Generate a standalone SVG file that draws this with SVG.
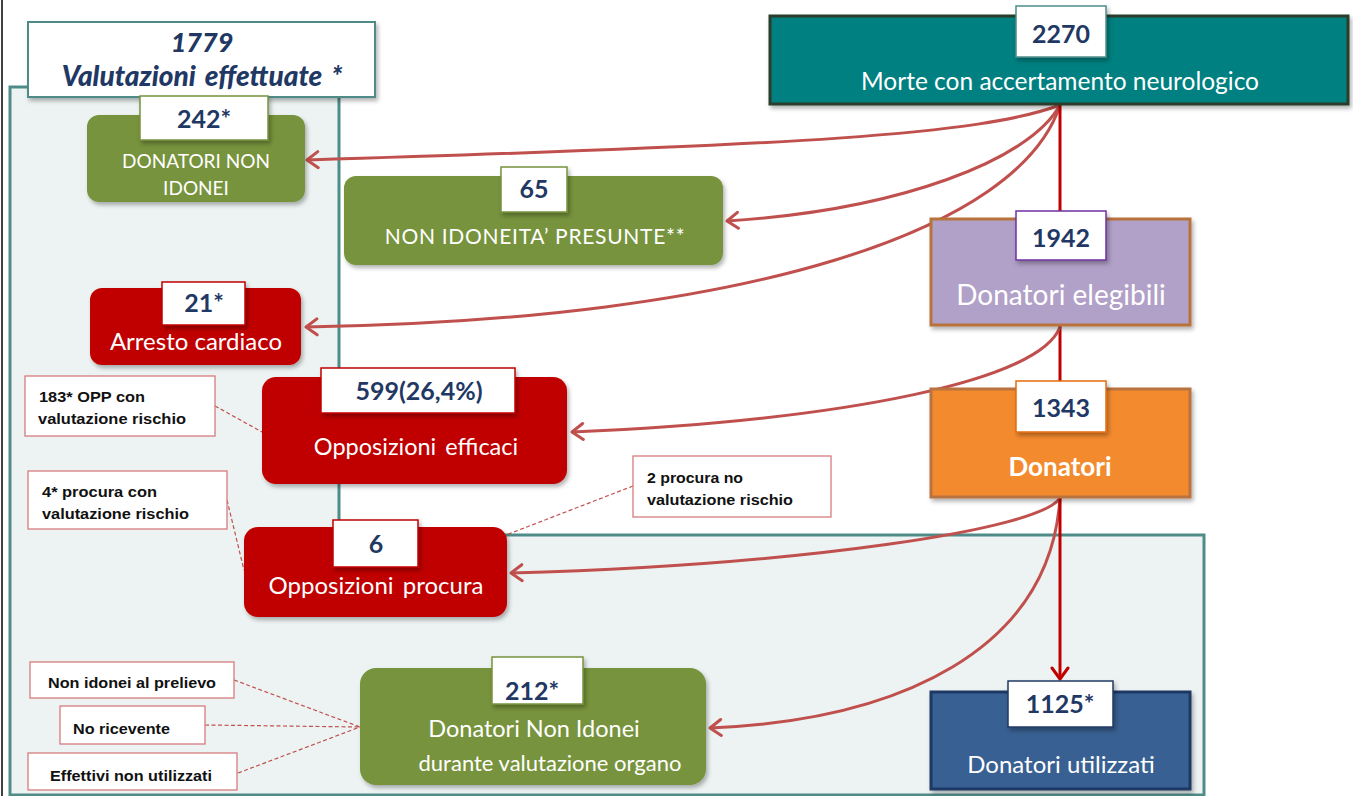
<svg xmlns="http://www.w3.org/2000/svg" width="1353" height="796" viewBox="0 0 1353 796">
<style>
.lbl{fill:#fff;filter:url(#sh)}
.num{font-family:Lato,"Open Sans",sans-serif;font-weight:bold;font-size:25px;fill:#1F3864;text-anchor:middle}
.wt{font-family:Lato,"Open Sans",sans-serif;fill:#fff;text-anchor:middle}
.note{fill:#fff;stroke:#D47C7E;stroke-width:1.3}
.nt{font-family:"Liberation Sans",Arial,sans-serif;font-weight:bold;font-size:14px;fill:#111}
.cv{fill:none;stroke:#C0504D;stroke-width:3}
.vt{fill:none;stroke:#C00000;stroke-width:3}
.ds{fill:none;stroke:#C0504D;stroke-width:1.2;stroke-dasharray:4,2.5}
</style>
<defs>
<filter id="sh" x="-10%" y="-10%" width="130%" height="140%">
<feDropShadow dx="2" dy="3" stdDeviation="2" flood-color="#000" flood-opacity="0.3"/>
</filter>
<marker id="arr" markerUnits="userSpaceOnUse" markerWidth="16" markerHeight="20" viewBox="0 0 16 20" refX="14" refY="10" orient="auto">
<path d="M3,2 L14,10 L3,18" fill="none" stroke="#C0504D" stroke-width="3" stroke-linecap="round" stroke-linejoin="round"/>
</marker>
<marker id="arrD" markerUnits="userSpaceOnUse" markerWidth="16" markerHeight="20" viewBox="0 0 16 20" refX="14" refY="10" orient="auto">
<path d="M3,2 L14,10 L3,18" fill="none" stroke="#C00000" stroke-width="3" stroke-linecap="round" stroke-linejoin="round"/>
</marker>
</defs>
<rect x="0" y="0" width="1353" height="796" fill="#fff"/>
<line x1="2" y1="0" x2="2" y2="796" stroke="#000" stroke-width="1.5"/>

<g id="container">
<path d="M10,87 H339 V535 H1204 V795 H10 Z" fill="#EDF3F3" stroke="#4F8C89" stroke-width="3"/>
</g>

<g id="header">
<rect x="28" y="22" width="347" height="75" fill="#fff" stroke="#4F8C89" stroke-width="2" filter="url(#sh)"/>
<text x="202" y="52" font-family="Lato,'Open Sans',sans-serif" font-weight="900" font-style="italic" font-size="27" fill="#1F3864" text-anchor="middle">1779</text>
<text x="202" y="86" font-family="Lato,'Open Sans',sans-serif" font-weight="900" font-style="italic" font-size="28" fill="#1F3864" text-anchor="middle" word-spacing="3">Valutazioni effettuate  *</text>
</g>

<g id="connectors">
<path class="cv" d="M1060,105 C980,135 800,145 307,160" marker-end="url(#arr)"/>
<path class="cv" d="M1060,105 C1030,160 900,210 727,221" marker-end="url(#arr)"/>
<path class="cv" d="M1060,105 C1020,230 750,320 306,327" marker-end="url(#arr)"/>
<line class="vt" x1="1060" y1="104" x2="1060" y2="219"/>
<line class="vt" x1="1060" y1="325" x2="1060" y2="389"/>
<path class="cv" d="M1060,327 C1040,380 850,420 572,432" marker-end="url(#arr)"/>
<path class="cv" d="M1060,498 C1040,530 800,565 511,573" marker-end="url(#arr)"/>
<path class="cv" d="M1060,498 C1050,650 900,720 710,728" marker-end="url(#arr)"/>
<line class="vt" x1="1060" y1="498" x2="1060" y2="679" marker-end="url(#arrD)"/>
<line class="ds" x1="215" y1="406" x2="262" y2="432"/>
<line class="ds" x1="227" y1="500" x2="244" y2="570"/>
<line class="ds" x1="633" y1="486" x2="506" y2="535"/>
<line class="ds" x1="234" y1="680" x2="360" y2="727"/>
<line class="ds" x1="205" y1="725" x2="360" y2="727" stroke-dasharray="24,10"/>
<line class="ds" x1="238" y1="773" x2="360" y2="727"/>
</g>

<g id="n2270">
<rect x="770" y="16" width="578" height="88" fill="#008080" stroke="#2A3D2A" stroke-width="3" filter="url(#sh)"/>
<rect class="lbl" x="1016" y="6" width="90" height="51" stroke="#4F8C89" stroke-width="1.5"/>
<text class="num" x="1061" y="43" font-size="27">2270</text>
<text class="wt" x="1060" y="90" font-size="24.5">Morte con accertamento neurologico</text>
</g>

<g id="n1942">
<rect x="931" y="219" width="259" height="106" fill="#B1A0C7" stroke="#B8733C" stroke-width="3" filter="url(#sh)"/>
<rect class="lbl" x="1016" y="211" width="90" height="49" stroke="#7030A0" stroke-width="1.5"/>
<text class="num" x="1061" y="247" font-size="27">1942</text>
<text class="wt" x="1061" y="305" font-size="28">Donatori elegibili</text>
</g>

<g id="n1343">
<rect x="931" y="389" width="259" height="108" fill="#F38A2F" stroke="#B9733F" stroke-width="3" filter="url(#sh)"/>
<rect class="lbl" x="1016" y="381" width="90" height="51" stroke="#E46C0A" stroke-width="1.5"/>
<text class="num" x="1061" y="417" font-size="27">1343</text>
<text class="wt" x="1060" y="476" font-size="26" font-weight="bold">Donatori</text>
</g>

<g id="n1125">
<rect x="931" y="692" width="259" height="97" fill="#376092" stroke="#1F3864" stroke-width="3" filter="url(#sh)"/>
<rect class="lbl" x="1008" y="681" width="105" height="46" stroke="#1F3864" stroke-width="1.5"/>
<text class="num" x="1060" y="713">1125*</text>
<text class="wt" x="1061" y="773" font-size="24">Donatori utilizzati</text>
</g>

<g id="n242">
<rect x="87" y="115" width="218" height="87" rx="12" fill="#77933C" filter="url(#sh)"/>
<rect class="lbl" x="140" y="96" width="128" height="44" stroke="#77933C" stroke-width="1.5"/>
<text class="num" x="204" y="128">242*</text>
<text class="wt" x="196" y="168" font-size="19">DONATORI NON</text>
<text class="wt" x="196" y="195" font-size="19">IDONEI</text>
</g>

<g id="n65">
<rect x="344" y="176" width="379" height="89" rx="12" fill="#77933C" filter="url(#sh)"/>
<rect class="lbl" x="501" y="167" width="66" height="45" stroke="#77933C" stroke-width="1.5"/>
<text class="num" x="534" y="198">65</text>
<text class="wt" x="535" y="244" font-size="21" letter-spacing="0.7">NON IDONEITA’ PRESUNTE**</text>
</g>

<g id="n21">
<rect x="90" y="288" width="211" height="77" rx="12" fill="#C00000" filter="url(#sh)"/>
<rect class="lbl" x="162" y="282" width="83" height="43" stroke="#C00000" stroke-width="1.5"/>
<text class="num" x="204" y="312">21*</text>
<text class="wt" x="196" y="350" font-size="24">Arresto cardiaco</text>
</g>

<g id="n599">
<rect x="262" y="377" width="305" height="107" rx="14" fill="#C00000" filter="url(#sh)"/>
<rect class="lbl" x="321" y="368" width="194" height="45" stroke="#C00000" stroke-width="1.5"/>
<text class="num" x="419" y="400" font-size="24">599(26,4%)</text>
<text class="wt" x="416" y="455" font-size="23.5" word-spacing="3">Opposizioni efficaci</text>
</g>

<g id="n6">
<rect x="244" y="527" width="263" height="90" rx="14" fill="#C00000" filter="url(#sh)"/>
<rect class="lbl" x="333" y="520" width="85" height="47" stroke="#C00000" stroke-width="1.5"/>
<text class="num" x="376" y="553">6</text>
<text class="wt" x="376" y="594" font-size="24" word-spacing="3">Opposizioni procura</text>
</g>

<g id="n212">
<rect x="360" y="668" width="346" height="117" rx="16" fill="#77933C" filter="url(#sh)"/>
<rect class="lbl" x="492" y="657" width="91" height="47" stroke="#77933C" stroke-width="1.5"/>
<text class="num" x="532" y="700">212*</text>
<text class="wt" x="534" y="737" font-size="23.5">Donatori Non Idonei</text>
<text class="wt" x="550" y="771" font-size="22">durante valutazione organo</text>
</g>

<g id="note183">
<rect class="note" x="25" y="376" width="190" height="60"/>
<text class="nt" x="39" y="402" textLength="106" lengthAdjust="spacingAndGlyphs">183* OPP con</text>
<text class="nt" x="38" y="424" textLength="148" lengthAdjust="spacingAndGlyphs">valutazione rischio</text>
</g>

<g id="note4">
<rect class="note" x="28" y="471" width="199" height="58"/>
<text class="nt" x="42" y="497" textLength="115" lengthAdjust="spacingAndGlyphs">4* procura con</text>
<text class="nt" x="42" y="519" textLength="147" lengthAdjust="spacingAndGlyphs">valutazione rischio</text>
</g>

<g id="note2">
<rect class="note" x="633" y="456" width="198" height="61"/>
<text class="nt" x="647" y="483" textLength="96" lengthAdjust="spacingAndGlyphs">2 procura no</text>
<text class="nt" x="647" y="505" textLength="146" lengthAdjust="spacingAndGlyphs">valutazione rischio</text>
</g>

<g id="noteNonIdonei">
<rect class="note" x="30" y="662" width="204" height="36"/>
<text class="nt" x="48" y="688" textLength="168" lengthAdjust="spacingAndGlyphs">Non idonei al prelievo</text>
</g>

<g id="noteNoRicevente">
<rect class="note" x="60" y="706" width="145" height="38"/>
<text class="nt" x="73" y="734" textLength="97" lengthAdjust="spacingAndGlyphs">No ricevente</text>
</g>

<g id="noteEffettivi">
<rect class="note" x="28" y="753" width="209" height="37"/>
<text class="nt" x="50" y="781" textLength="162" lengthAdjust="spacingAndGlyphs">Effettivi non utilizzati</text>
</g>
</svg>
